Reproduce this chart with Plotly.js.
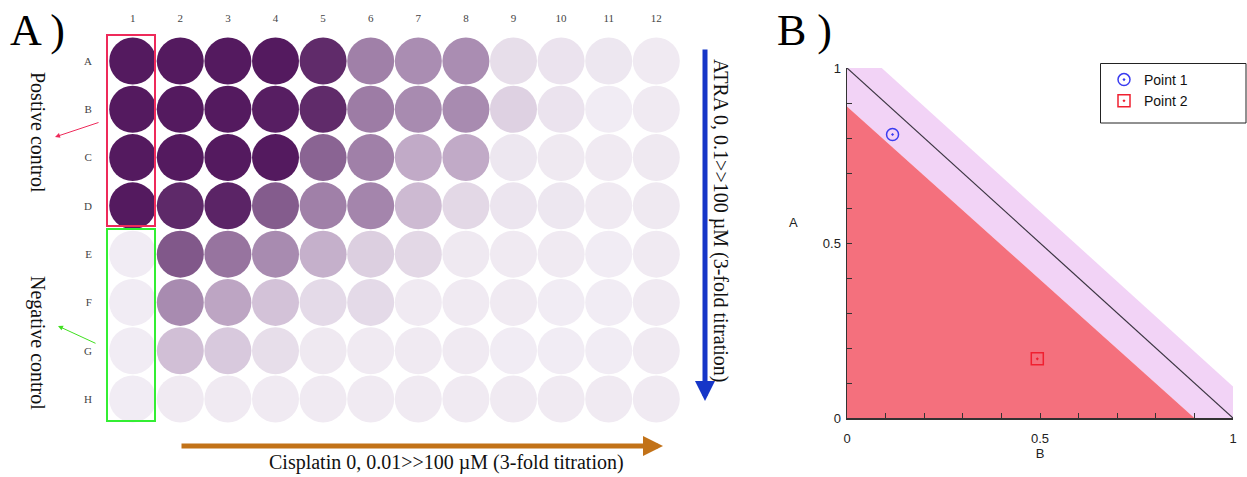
<!DOCTYPE html>
<html>
<head>
<meta charset="utf-8">
<script src="https://cdn.plot.ly/plotly-3.0.1.min.js"></script>
<style>html,body{margin:0;padding:0;background:#fff;}#chart{width:1247px;height:477px;}</style>
</head>
<body>
<div id="chart"></div>
<script>
// ---- Panel A: 96-well plate (relative stain intensity 0..1) ----
const plateCols = ['1','2','3','4','5','6','7','8','9','10','11','12'];
const plateRows = ['A','B','C','D','E','F','G','H'];
const rowA = [1.00, 1.00, 1.00, 1.00, 0.92, 0.50, 0.45, 0.45, 0.10, 0.07, 0.05, 0.03];
const rowB = [1.00, 1.00, 1.00, 0.98, 0.92, 0.52, 0.46, 0.46, 0.17, 0.07, 0.02, 0.03];
const rowC = [1.00, 1.00, 1.00, 1.00, 0.64, 0.50, 0.34, 0.34, 0.05, 0.04, 0.03, 0.04];
const rowD = [1.00, 0.93, 0.95, 0.68, 0.50, 0.48, 0.28, 0.13, 0.06, 0.05, 0.03, 0.04];
const rowE = [0.02, 0.70, 0.56, 0.46, 0.32, 0.18, 0.13, 0.04, 0.03, 0.03, 0.02, 0.03];
const rowF = [0.02, 0.46, 0.36, 0.25, 0.12, 0.12, 0.03, 0.03, 0.03, 0.02, 0.02, 0.03];
const rowG = [0.02, 0.26, 0.21, 0.10, 0.04, 0.03, 0.03, 0.03, 0.02, 0.02, 0.02, 0.03];
const rowH = [0.02, 0.03, 0.03, 0.03, 0.03, 0.03, 0.03, 0.03, 0.03, 0.03, 0.03, 0.03];
const plateValues = [rowA, rowB, rowC, rowD, rowE, rowF, rowG, rowH];

// ---- Panel B: isobologram ----
const bandB = [0, 0, 0.09, 1, 1, 0.9, 0];
const bandA = [0.89, 1, 1, 0.09, 0, 0, 0.89];
const redB = [0, 0, 0.9, 0];
const redA = [0, 0.89, 0, 0];
const additiveB = [0, 1];
const additiveA = [1, 0];
const point1 = {name: 'Point 1', B: [0.118], A: [0.81]};
const point2 = {name: 'Point 2', B: [0.493], A: [0.169]};
const bTicks = [0, 0.5, 1];
const bTickText = ['0', '0.5', '1'];

// build well arrays
const wx = [], wy = [], wc = [];
plateValues.forEach((row, ri) => row.forEach((v, ci) => { wx.push(ci + 1); wy.push(ri + 1); wc.push(v); }));

const W = 1247, H = 477;
const px = x => x / W;
const py = y => 1 - y / H;
const serif = 'Liberation Serif, Times New Roman, serif';
const sans = 'Liberation Sans, Arial, sans-serif';

const traces = [
  {type:'scatter', mode:'markers', x: wx, y: wy, xaxis:'x', yaxis:'y', showlegend:false, hoverinfo:'skip',
   marker:{size:47, color: wc, cmin:0, cmax:1,
     colorscale:[[0,'#f4f0f6'],[0.25,'#d3c2d8'],[0.5,'#a080a8'],[0.75,'#794e82'],[1,'#541a5f']],
     line:{width:0}}},
  {type:'scatter', mode:'lines', x: bandB, y: bandA, xaxis:'x2', yaxis:'y2', fill:'toself',
   fillcolor:'#f2d3f6', line:{width:0}, showlegend:false, hoverinfo:'skip'},
  {type:'scatter', mode:'lines', x: redB, y: redA, xaxis:'x2', yaxis:'y2', fill:'toself',
   fillcolor:'#f4707d', line:{width:0}, showlegend:false, hoverinfo:'skip'},
  {type:'scatter', mode:'lines', x: additiveB, y: additiveA, xaxis:'x2', yaxis:'y2',
   line:{color:'#3a3440', width:1.2}, showlegend:false, hoverinfo:'skip'},
  {type:'scatter', mode:'markers', name: point1.name, x: point1.B, y: point1.A, xaxis:'x2', yaxis:'y2',
   marker:{symbol:'circle-open-dot', size:12, color:'#3a3cf0', line:{width:1.5}}},
  {type:'scatter', mode:'markers', name: point2.name, x: point2.B, y: point2.A, xaxis:'x2', yaxis:'y2',
   marker:{symbol:'square-open-dot', size:12, color:'#f02030', line:{width:1.5}}}
];

const C = {xanchor:'center', yanchor:'middle', showarrow:false, xref:'paper', yref:'paper'};
const annotations = [
  {xref:'paper', yref:'paper', x:px(8), y:py(4), xanchor:'left', yanchor:'top', showarrow:false,
   text:'A )', font:{family:serif, size:44, color:'#000'}},
  {xref:'paper', yref:'paper', x:px(775), y:py(4), xanchor:'left', yanchor:'top', showarrow:false,
   text:'B )', font:{family:serif, size:44, color:'#000'}},
  Object.assign({x:px(38), y:py(132), textangle:90,
   text:'Postive control', font:{family:serif, size:20, color:'#111'}}, C),
  Object.assign({x:px(38), y:py(343), textangle:90,
   text:'Negative control', font:{family:serif, size:20, color:'#111'}}, C),
  Object.assign({x:px(721), y:py(221), textangle:90,
   text:'ATRA 0, 0.1>>100 µM (3-fold titration)', font:{family:serif, size:20, color:'#111'}}, C),
  Object.assign({x:px(446), y:py(462),
   text:'Cisplatin 0, 0.01>>100 µM (3-fold titration)', font:{family:serif, size:20, color:'#111'}}, C),
  Object.assign({x:px(793), y:py(222),
   text:'A', font:{family:sans, size:13, color:'#222'}}, C),
  // arrows
  {xref:'paper', yref:'paper', x:px(705), y:py(401), ax:0, ay:-353, text:'', showarrow:true,
   arrowhead:2, arrowsize:0.8, arrowwidth:5, arrowcolor:'#1636c8'},
  {xref:'paper', yref:'paper', x:px(663), y:py(446), ax:-483, ay:0, text:'', showarrow:true,
   arrowhead:2, arrowsize:0.8, arrowwidth:5, arrowcolor:'#c27218'},
  {xref:'paper', yref:'paper', x:px(55), y:py(137), ax:45, ay:-15, text:'', showarrow:true,
   arrowhead:2, arrowsize:1, arrowwidth:1, arrowcolor:'#ee2a5a'},
  {xref:'paper', yref:'paper', x:px(58), y:py(326), ax:39, ay:18, text:'', showarrow:true,
   arrowhead:2, arrowsize:1, arrowwidth:1, arrowcolor:'#40e020'}
];

const shapes = [
  {type:'rect', xref:'paper', yref:'paper', x0:px(107), x1:px(155), y0:py(35), y1:py(226),
   line:{color:'#ee2a5a', width:2}},
  {type:'rect', xref:'paper', yref:'paper', x0:px(107), x1:px(155), y0:py(229), y1:py(421),
   line:{color:'#33ee33', width:2}},
  // legend frame
  {type:'rect', xref:'paper', yref:'paper', x0:px(1100.5), x1:px(1246), y0:py(63.5), y1:py(123),
   line:{color:'#222', width:1}, fillcolor:'#fff', layer:'below'}
];

const layout = {
  width: W, height: H,
  margin:{l:0, r:0, t:0, b:0},
  paper_bgcolor:'#fff', plot_bgcolor:'rgba(0,0,0,0)',
  showlegend:true,
  legend:{x:px(1104), y:py(64), xanchor:'left', yanchor:'top', bgcolor:'rgba(0,0,0,0)',
    borderwidth:0, font:{family:sans, size:14, color:'#111'},
    itemwidth:30, tracegroupgap:0},
  xaxis:{domain:[px(108.9), px(680.1)], range:[0.5, 12.5], side:'top', anchor:'y',
    tickvals: plateCols.map((c,i)=>i+1), ticktext: plateCols, ticks:'', ticklabelstandoff:12,
    showgrid:false, zeroline:false, showline:false, fixedrange:true,
    tickfont:{family:serif, size:11, color:'#444'}},
  yaxis:{domain:[py(423.1), py(36.9)], range:[8.5, 0.5], anchor:'x',
    tickvals: plateRows.map((r,i)=>i+1), ticktext: plateRows, ticks:'', ticklabelstandoff:16,
    showgrid:false, zeroline:false, showline:false, fixedrange:true,
    tickfont:{family:serif, size:11, color:'#444'}},
  xaxis2:{domain:[px(847), px(1233)], range:[0, 1], anchor:'y2',
    tickvals: bTicks, ticktext: bTickText, ticks:'inside', ticklen:5, tickcolor:'#333',
    minor:{dtick:0.1, tick0:0, ticks:'inside', ticklen:5, tickcolor:'#333', showgrid:false},
    ticklabelstandoff:8, showgrid:false, zeroline:false, showline:true, linecolor:'#333', linewidth:1.5,
    tickfont:{family:sans, size:13, color:'#222'},
    title:{text:'B', font:{family:sans, size:13, color:'#222'}, standoff:4}},
  yaxis2:{domain:[py(418), py(68)], range:[0, 1], anchor:'x2',
    tickvals: bTicks, ticktext: bTickText, ticks:'inside', ticklen:5, tickcolor:'#333',
    minor:{dtick:0.1, tick0:0, ticks:'inside', ticklen:5, tickcolor:'#333', showgrid:false},
    ticklabelstandoff:2, showgrid:false, zeroline:false, showline:true, linecolor:'#333', linewidth:1.5,
    tickfont:{family:sans, size:13, color:'#222'}},
  annotations, shapes
};

Plotly.newPlot('chart', traces, layout, {displayModeBar:false, staticPlot:true});
</script>
</body>
</html>
